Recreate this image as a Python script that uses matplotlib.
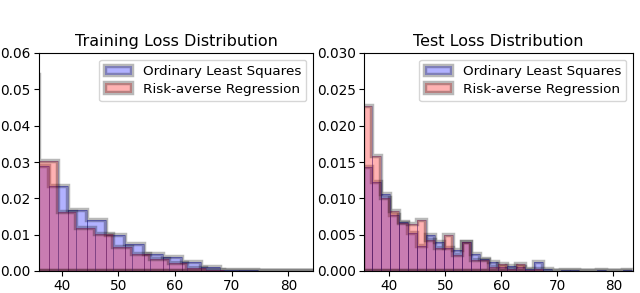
import numpy as np
import matplotlib.pyplot as plt

# --- DATA (densities) ---
LABEL_OLS = "Ordinary Least Squares"
LABEL_RA = "Risk-averse Regression"

# training: the two histograms use slightly different bins
train_ols_edges = np.array([34.40, 37.76, 41.12, 44.48, 47.84, 51.20, 54.56, 57.92,
                            61.28, 64.64, 68.00, 71.36, 74.72, 78.08, 81.44, 84.80])
train_ols = [0.0290, 0.0235, 0.0167, 0.0140, 0.0098, 0.0074, 0.0046, 0.0039,
             0.0025, 0.0011, 0.0004, 0.0002, 0.0001, 0.0001, 0.0001]
train_ra_edges = np.array([32.73, 36.00, 39.27, 42.54, 45.81, 49.08, 52.35, 55.62,
                           58.89, 62.16, 65.43, 68.70, 71.97, 75.24, 78.51, 81.78, 85.05])
train_ra = [0.0540, 0.0304, 0.0163, 0.0117, 0.0103, 0.0066, 0.0048, 0.0032,
            0.0023, 0.0009, 0.0002, 0.0, 0.0, 0.0, 0.0, 0.0]

# test: shared bins, width 1.6
test_edges = np.array([35.4, 37.0, 38.6, 40.2, 41.8, 43.4, 45.0, 46.6, 48.2, 49.8,
                       51.4, 53.0, 54.6, 56.2, 57.8, 59.4, 61.0, 62.6, 64.2, 65.8,
                       67.4, 69.0, 70.6, 72.2, 73.8, 75.4, 77.0, 78.6, 80.2, 81.8, 83.4])
test_ols = [0.0143, 0.0123, 0.0106, 0.0077, 0.0068, 0.0052, 0.0035, 0.0049, 0.0040, 0.0031,
            0.0029, 0.0040, 0.0024, 0.0017, 0.0012, 0.0006, 0.0007, 0.0005, 0.0003, 0.0012,
            0.0003, 0.0000, 0.0001, 0.0002, 0.0000, 0.0000, 0.0002, 0.0000, 0.0000, 0.0002]
test_ra = [0.0227, 0.0158, 0.0100, 0.0082, 0.0066, 0.0065, 0.0070, 0.0042, 0.0031, 0.0049,
           0.0022, 0.0040, 0.0015, 0.0015, 0.0006, 0.0010, 0.0003, 0.0010, 0.0002, 0.0003,
           0.0000, 0.0000, 0.0000, 0.0000, 0.0000, 0.0000, 0.0000, 0.0000, 0.0000, 0.0000]

train_xlim = (36.0, 84.35)
test_xlim = (35.5, 83.5)
train_ylim = (0, 0.06)
test_ylim = (0, 0.030)


def draw_hist(ax, edges, heights, face, thin, label):
    edges = np.asarray(edges)
    # filled shape with thick translucent grey outline
    ax.hist(edges[:-1], bins=edges, weights=heights, histtype='stepfilled',
            facecolor=face, edgecolor=(0, 0, 0, 0.28), linewidth=3.2, label=label)
    # thin edges of the individual bars
    ax.hist(edges[:-1], bins=edges, weights=heights, histtype='bar', rwidth=1.0,
            fill=False, edgecolor=thin, linewidth=0.7)


fig = plt.figure(figsize=(6.4, 2.93), dpi=100)
ax1 = fig.add_axes([39 / 640, 22 / 293, 274 / 640, 218 / 293])
ax2 = fig.add_axes([364 / 640, 22 / 293, 269 / 640, 218 / 293])

blue = (0, 0, 1, 0.3)
red = (1, 0, 0, 0.3)

draw_hist(ax1, train_ols_edges, train_ols, blue, (0.1, 0.1, 0.5, 0.4), LABEL_OLS)
draw_hist(ax1, train_ra_edges, train_ra, red, (0.3, 0.1, 0.4, 0.35), LABEL_RA)
draw_hist(ax2, test_edges, test_ols, blue, (0.1, 0.1, 0.5, 0.4), LABEL_OLS)
draw_hist(ax2, test_edges, test_ra, red, (0.3, 0.1, 0.4, 0.35), LABEL_RA)

for ax, title, xl, yl, yt in [
        (ax1, "Training Loss Distribution", train_xlim, train_ylim,
         np.arange(0, 0.0601, 0.01)),
        (ax2, "Test Loss Distribution", test_xlim, test_ylim,
         np.arange(0, 0.0301, 0.005))]:
    ax.set_xlim(*xl)
    ax.set_ylim(*yl)
    ax.set_xticks([40, 50, 60, 70, 80])
    ax.set_yticks(yt)
    ax.tick_params(labelsize=9.8, pad=2.5)
    ax.set_title(title, fontsize=11.5, pad=5)
    ax.legend(loc='upper right', fontsize=9.7, borderaxespad=0.5,
              handlelength=2.0, labelspacing=0.35)

ax1.yaxis.set_major_formatter(plt.FormatStrFormatter('%.2f'))
ax2.yaxis.set_major_formatter(plt.FormatStrFormatter('%.3f'))

plt.savefig("out.png", dpi=100)
